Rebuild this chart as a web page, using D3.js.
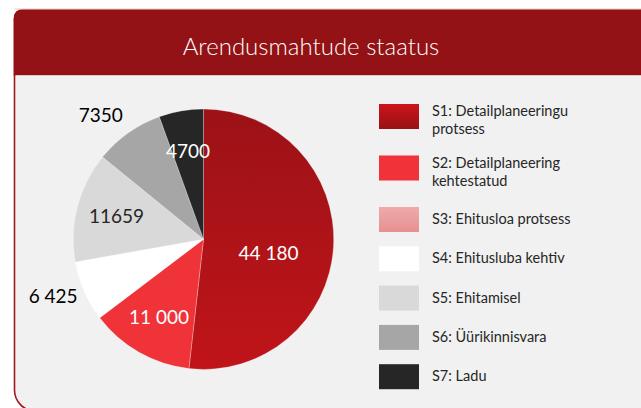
<!DOCTYPE html>
<html>
<head>
<meta charset="utf-8">
<script src="https://cdn.jsdelivr.net/npm/d3@7"></script>
<style>
  body { margin: 0; background: #fff; }
  svg { display: block; }
</style>
</head>
<body>
<div id="chart"></div>
<script>
// data
const categories = ["S1", "S2", "S3", "S4", "S5", "S6", "S7"];
const legendLabels = [
  ["S1: Detailplaneeringu", "protsess"],
  ["S2: Detailplaneering", "kehtestatud"],
  ["S3: Ehitusloa protsess"],
  ["S4: Ehitusluba kehtiv"],
  ["S5: Ehitamisel"],
  ["S6: Üürikinnisvara"],
  ["S7: Ladu"]
];
const values = [44180, 11000, 0, 6425, 11659, 7350, 4700];
const valueLabels = ["44 180", "11 000", "", "6 425", "11659", "7350", "4700"];
const title = "Arendusmahtude staatus";

const width = 641, height = 408;
const cx = 203.5, cy = 239.2, radius = 130.2;
const font = "Lato, 'Open Sans', sans-serif";

const svg = d3.select("#chart")
  .append("svg")
    .attr("width", width)
    .attr("height", height);

const defs = svg.append("defs");
function grad(id, c1, c2) {
  const g = defs.append("linearGradient").attr("id", id)
    .attr("x1", 0).attr("y1", 0).attr("x2", 0).attr("y2", 1);
  g.append("stop").attr("offset", "0%").attr("stop-color", c1);
  g.append("stop").attr("offset", "100%").attr("stop-color", c2);
}
grad("s1pie", "#9c1217", "#c01419");
grad("s1leg", "#cb161a", "#981015");
grad("s3pie", "#efaaaa", "#e79090");

const pieFill = ["url(#s1pie)", "#f03338", "url(#s3pie)", "#ffffff", "#d9d9d9", "#a6a6a6", "#262626"];
const legFill = ["url(#s1leg)", "#f03338", "url(#s3pie)", "#ffffff", "#d9d9d9", "#a6a6a6", "#262626"];

// card: rounded top-left and bottom-left, runs off right/bottom
const x0 = 14.5, y0 = 10, hdr = 75, yb = 411, rt = 9, rb = 21;
svg.append("path")
  .attr("d", `M${width + 5},${y0} L${x0 + rt},${y0} Q${x0},${y0} ${x0},${y0 + rt}
              L${x0},${yb - rb} A${rb},${rb} 0 0 0 ${x0 + rb},${yb} L${width + 5},${yb}`)
  .attr("fill", "#f1f1f1")
  .attr("stroke", "#a0181d")
  .attr("stroke-width", 1.6);

svg.append("path")
  .attr("d", `M${width + 5},${y0} L${x0 + rt},${y0} Q${x0},${y0} ${x0},${y0 + rt}
              L${x0},${hdr} L${width + 5},${hdr} Z`)
  .attr("fill", "#931215")
  .attr("stroke", "#931215")
  .attr("stroke-width", 1.6);

svg.append("line")
  .attr("x1", x0).attr("x2", width + 5)
  .attr("y1", y0 - 1).attr("y2", y0 - 1)
  .attr("stroke", "#e6c8c8").attr("stroke-width", 1);

svg.append("line")
  .attr("x1", x0 + 1).attr("x2", width)
  .attr("y1", hdr + 0.5).attr("y2", hdr + 0.5)
  .attr("stroke", "#d8c8c8").attr("stroke-width", 1);

svg.append("text")
  .attr("x", 311)
  .attr("y", 55)
  .attr("text-anchor", "middle")
  .attr("fill", "#ffffff")
  .style("font-family", font)
  .style("font-weight", 300)
  .style("font-size", "24px")
  .text(title);

// pie
const pie = d3.pie().sort(null).value(d => d.value);
const arcs = pie(categories.map((c, i) => ({ key: c, value: values[i], label: valueLabels[i], i })));
const arc = d3.arc().innerRadius(0).outerRadius(radius);

const g = svg.append("g").attr("transform", `translate(${cx},${cy})`);

g.selectAll("path.slice")
  .data(arcs.filter(d => d.data.value > 0))
  .join("path")
    .attr("class", "slice")
    .attr("d", arc)
    .attr("fill", d => pieFill[d.data.i])
    .attr("stroke", "rgba(255,255,255,0.45)")
    .attr("stroke-width", 0.6);

// label placement: outside for the slices Excel put outside (with its small angle nudges)
const outside = { S4: 0.05, S6: -0.077 };
const darkText = ["S5"];
const labelArc = d3.arc().innerRadius(radius * 0.69).outerRadius(radius * 0.69);
const outerR = radius * 1.235;

g.selectAll("text.val")
  .data(arcs.filter(d => d.data.value > 0))
  .join("text")
    .attr("class", "val")
    .attr("transform", d => {
      let p;
      if (d.data.key in outside) {
        const a = (d.startAngle + d.endAngle) / 2 + outside[d.data.key];
        p = [outerR * Math.sin(a), -outerR * Math.cos(a)];
      }
      else if (d.data.i === 0) p = arc.centroid(d).map((v, k) => v + (k === 1 ? 10 : 0));
      else p = labelArc.centroid(d);
      return `translate(${p})`;
    })
    .attr("text-anchor", "middle")
    .attr("dy", "0.36em")
    .attr("fill", d => (d.data.key in outside) ? "#000000"
      : darkText.includes(d.data.key) ? "#262626" : "#ffffff")
    .style("font-family", font)
    .style("font-size", "19px")
    .text(d => d.data.label);

// legend
const steps = [0];
legendLabels.forEach((l, i) => { if (i > 0) steps.push(steps[i - 1] + (legendLabels[i - 1].length > 1 ? 51.5 : 39.3)); });

const leg = svg.append("g")
  .selectAll("g")
  .data(categories)
  .join("g")
    .attr("transform", (d, i) => `translate(379,${116.5 + steps[i]})`);

leg.append("rect")
  .attr("x", 0)
  .attr("y", -12.5)
  .attr("width", 40)
  .attr("height", 25)
  .attr("fill", (d, i) => legFill[i]);

leg.each(function(d, i) {
  const lines = legendLabels[i];
  const t = d3.select(this).append("text")
    .attr("x", 53)
    .attr("y", lines.length > 1 ? -0.5 : 4.5)
    .attr("fill", "#262626")
    .style("font-family", font)
    .style("font-size", "14.5px");
  lines.forEach((s, k) => {
    t.append("tspan").attr("x", 53).attr("dy", k === 0 ? 0 : 18).text(s);
  });
});
</script>
</body>
</html>
